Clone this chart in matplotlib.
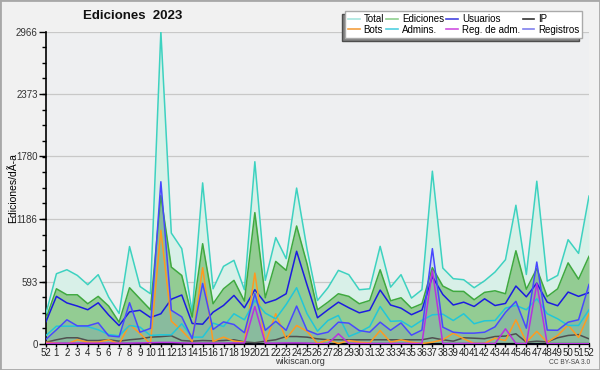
import numpy as np
import matplotlib
matplotlib.use('Agg')
import matplotlib.pyplot as plt
from matplotlib import font_manager
from matplotlib.lines import Line2D
from matplotlib.patches import Rectangle

# weeks: last week of 2022 followed by weeks 1..52 of 2023
week_labels = ['52'] + [str(w) for w in range(1, 53)]

total = [290, 667, 705, 651, 563, 658, 445, 290, 925, 546, 477, 2966, 1053, 905, 302,
         1529, 524, 737, 794, 515, 1730, 604, 1010, 810, 1480, 900, 413, 534, 699, 658,
         515, 524, 927, 540, 658, 436, 515, 1640, 721, 620, 610, 534, 600, 683, 800,
         1317, 660, 1545, 597, 651, 990, 860, 1404]
ediciones = [240, 524, 467, 467, 382, 452, 360, 207, 534, 429, 325, 1410, 730, 651, 255,
             952, 382, 524, 604, 407, 1247, 439, 784, 699, 1120, 760, 325, 397, 477, 452,
             382, 413, 705, 410, 439, 340, 382, 724, 550, 500, 499, 420, 490, 505, 477,
             885, 520, 715, 450, 524, 770, 615, 832]
usuarios = [212, 452, 390, 360, 325, 391, 275, 175, 305, 320, 252, 287, 425, 465, 195,
            188, 302, 366, 461, 344, 515, 388, 420, 477, 880, 560, 249, 325, 397, 344,
            296, 320, 512, 370, 340, 278, 322, 640, 470, 370, 397, 356, 429, 365, 385,
            550, 448, 578, 397, 363, 493, 452, 488]
ip = [17, 40, 59, 59, 33, 33, 40, 27, 40, 49, 65, 70, 78, 33, 27, 33, 30, 33, 40, 20,
      12, 27, 40, 71, 71, 65, 49, 40, 40, 40, 40, 40, 40, 40, 40, 40, 40, 59, 40, 27,
      59, 55, 50, 71, 75, 97, 17, 27, 20, 59, 81, 89, 49]
bots = [17, 8, 0, 40, 17, 17, 40, 0, 185, 100, 0, 1079, 217, 128, 24, 724, 24, 65, 27,
        17, 673, 8, 287, 49, 176, 120, 5, 40, 5, 33, 17, 10, 128, 17, 40, 17, 5, 17, 40,
        103, 49, 5, 5, 55, 33, 230, 17, 120, 17, 81, 180, 62, 287]
admins = [81, 169, 169, 169, 165, 135, 90, 78, 176, 160, 81, 87, 87, 192, 65, 65, 198,
          166, 287, 230, 413, 293, 239, 375, 534, 287, 122, 223, 271, 71, 112, 165, 356,
          215, 220, 160, 225, 277, 283, 223, 287, 192, 220, 223, 340, 366, 325, 429, 287,
          239, 176, 176, 325]
reg_adm = [5, 8, 8, 8, 8, 8, 8, 8, 8, 10, 12, 15, 15, 10, 8, 8, 8, 8, 10, 10, 356, 8,
           8, 10, 10, 8, 3, 3, 97, 5, 5, 5, 5, 5, 5, 5, 5, 699, 5, 5, 5, 5, 5, 3, 144,
           5, 2, 572, 2, 2, 2, 2, 2]
registros = [45, 135, 230, 172, 172, 201, 78, 68, 392, 112, 148, 1540, 320, 258, 50,
             575, 138, 210, 185, 107, 478, 130, 215, 130, 360, 130, 90, 112, 207, 198,
             128, 112, 207, 130, 200, 84, 132, 905, 160, 112, 103, 103, 112, 163, 300,
             405, 150, 778, 132, 130, 207, 230, 565]

yticks = [0, 593, 1186, 1780, 2373, 2966]

# pick a narrow font if there is one
names = {f.name for f in font_manager.fontManager.ttflist}
narrow = 'Liberation Sans Narrow' if 'Liberation Sans Narrow' in names else 'Liberation Sans'
plt.rcParams['font.family'] = ['Liberation Sans', 'DejaVu Sans']

x = np.arange(len(week_labels))

fig = plt.figure(figsize=(6, 3.7), dpi=100, facecolor='#f1f1f1')
ax = fig.add_axes([46/600, 1-344/370, 543/600, 312.5/370])
ax.set_facecolor('#eeeff1')

# fills
ax.fill_between(x, 0, total, color='#d8f0e8', lw=0, zorder=1)
ax.fill_between(x, 0, ediciones, color='#93cc93', lw=0, zorder=2)
ax.fill_between(x, 0, registros, color='#3a3aff', alpha=0.11, lw=0, zorder=3)

# lines
lw = 1.1
ax.plot(x, total, color='#3dd2c0', lw=lw, zorder=5)
ax.plot(x, ediciones, color='#3fa93f', lw=lw, zorder=5)
ax.plot(x, usuarios, color='#1c1ce0', lw=lw, zorder=6)
ax.plot(x, ip, color='#505050', lw=lw, zorder=6)
ax.plot(x, bots, color='#ff9a20', lw=lw, zorder=6)
ax.plot(x, admins, color='#22c6d8', lw=lw, zorder=6)
ax.plot(x, reg_adm, color='#b830e0', lw=lw, zorder=7)
ax.plot(x, registros, color='#4848ff', lw=lw, zorder=7)

ax.set_xlim(0, 52)
ax.set_ylim(0, 2966)
ax.set_xticks(x)
ax.set_xticklabels(week_labels, fontsize=7, family=narrow, color='#222')
ax.set_yticks(yticks)
ax.set_yticklabels([str(v) for v in yticks], fontsize=7, family=narrow, color='#333')
ax.set_yticks(np.arange(0, 2967, 2966/20), minor=True)
ax.tick_params(axis='x', length=2.5, width=1, pad=0.3)
ax.tick_params(axis='y', which='major', length=5, width=1, pad=1)
ax.tick_params(axis='y', which='minor', length=3, width=1)
ax.grid(axis='y', which='major', color='#c8c8c8', lw=0.9, zorder=0)
ax.set_axisbelow(True)
for s in ['top', 'right']:
    ax.spines[s].set_visible(False)
ax.spines['left'].set_linewidth(1.2)
ax.spines['bottom'].set_linewidth(1.6)

ax.set_ylabel('Ediciones/dÃ-a', fontsize=7.5)
ax.yaxis.set_label_coords(-0.052, 0.5)

fig.text(133/600, 1-16/370, 'Ediciones  2023', fontsize=9.5, fontweight='bold',
         family=narrow, ha='center', va='center', color='#111')

# legend
handles = [
    Line2D([], [], color='#a8e6df', lw=1.2),
    Line2D([], [], color='#8fd08f', lw=1.2),
    Line2D([], [], color='#4444e0', lw=1.2),
    Line2D([], [], color='#333333', lw=1.2),
    Line2D([], [], color='#f4a040', lw=1.2),
    Line2D([], [], color='#50d0e0', lw=1.2),
    Line2D([], [], color='#d050e0', lw=1.2),
    Line2D([], [], color='#8080ee', lw=1.2),
]
labels = ['Total', 'Bots', 'Ediciones', 'Admins.', 'Usuarios', 'Reg. de adm.',
          'IP', 'Registros']
order = [0, 4, 1, 5, 2, 6, 3, 7]
leg = fig.legend([handles[i] for i in order], labels, loc='upper left',
                 bbox_to_anchor=(345/600, 1-11/370), ncol=4, fontsize=7,
                 frameon=True, fancybox=False, edgecolor='#aaaaaa',
                 facecolor='white', framealpha=1, handlelength=1.2,
                 handletextpad=0.4, columnspacing=0.25, labelspacing=0.1,
                 borderpad=0.3, borderaxespad=0,
                 shadow={'ox': -2.2, 'oy': -2.2, 'facecolor': '#808080', 'alpha': 1})
leg.get_frame().set_linewidth(1)

fig.text(300/600, 1-362/370, 'wikiscan.org', fontsize=6.5, ha='center', va='center',
         color='#333')
fig.text(590/600, 1-362.5/370, 'CC BY-SA 3.0', fontsize=4.8, ha='right', va='center',
         color='#444')

fig.patches.append(Rectangle((0, 0), 1, 1, transform=fig.transFigure, fill=False,
                             edgecolor='#a8a8a8', lw=2))

fig.savefig('out.png', dpi=100, facecolor=fig.get_facecolor())
